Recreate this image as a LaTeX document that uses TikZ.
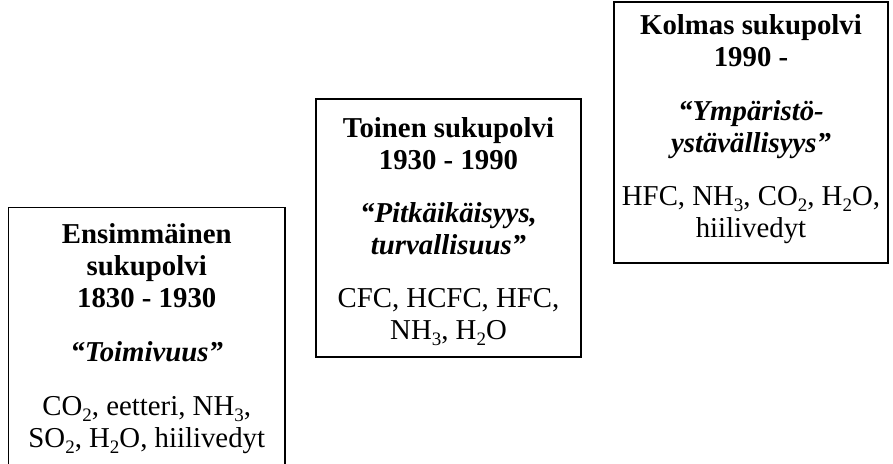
\documentclass[tikz,border=0pt]{standalone}
\usepackage{fontspec}
\setmainfont{Liberation Serif}
% chemical subscript: smaller digit set well below the baseline
\newcommand\chemsub[1]{\raisebox{-0.2em}{\fontsize{19}{19}\selectfont #1}}
\begin{document}
\begin{tikzpicture}[x=1pt,y=1pt,
  genbox/.style={draw=black, line width=1.3pt, outer sep=0pt, inner sep=0pt, anchor=north west},
  txt/.style={anchor=north, inner sep=0pt, outer sep=0pt, align=center,
              font=\fontsize{28.8}{32}\selectfont},
  head/.style={txt, font=\fontsize{28.8}{32}\selectfont\bfseries},
  motto/.style={txt, font=\fontsize{28.8}{32}\selectfont\bfseries\itshape}]
\useasboundingbox (0,0) rectangle (893,-463);
\begin{scope}
  \clip (0,0) rectangle (893,-463);
  % generation boxes
  \node[genbox, minimum width=276.5, minimum height=272.5] (g1) at (8.5,-207.5) {};
  \node[genbox, minimum width=265, minimum height=258] (g2) at (316,-99) {};
  \node[genbox, minimum width=274, minimum height=261] (g3) at (614,-2) {};
\end{scope}
% first generation
\node[head]  (h1) at ([yshift=-16.1]g1.north) {Ensimmäinen\\sukupolvi\\1830 - 1930};
\node[motto] (m1) at ([yshift=-134.1]g1.north) {“Toimivuus”};
\node[txt]   (r1) at ([yshift=-189.1]g1.north) {CO\chemsub{2}, eetteri, NH\chemsub{3},\\SO\chemsub{2}, H\chemsub{2}O, hiilivedyt};
% second generation
\node[head]  (h2) at ([yshift=-18.6]g2.north) {Toinen sukupolvi\\1930 - 1990};
\node[motto] (m2) at ([yshift=-103.6]g2.north) {“Pitkäikäisyys,\\turvallisuus”};
\node[txt]   (r2) at ([yshift=-189.6]g2.north) {CFC, HCFC, HFC,\\NH\chemsub{3}, H\chemsub{2}O};
% third generation
\node[head]  (h3) at ([yshift=-12.6]g3.north) {Kolmas sukupolvi\\1990 -};
\node[motto] (m3) at ([yshift=-98.6]g3.north) {“Ympäristö-\\ystävällisyys”};
\node[txt]   (r3) at ([yshift=-184.6]g3.north) {HFC, NH\chemsub{3}, CO\chemsub{2}, H\chemsub{2}O,\\hiilivedyt};
\end{tikzpicture}
\end{document}
